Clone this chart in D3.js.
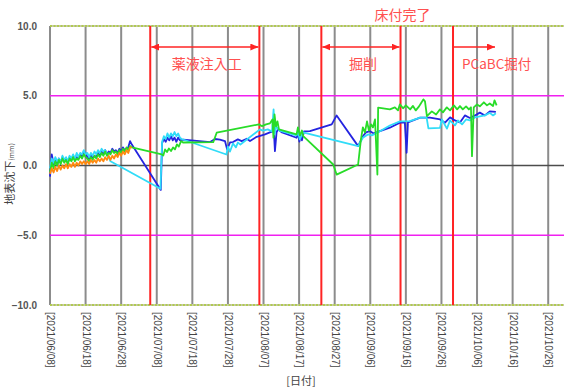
<!DOCTYPE html>
<html>
<head>
<meta charset="utf-8">
<script src="https://cdn.jsdelivr.net/npm/d3@7"></script>
<style>
body { margin: 0; background: #ffffff; }
</style>
</head>
<body>
<div id="canvas"></div>
<script>
// ----------------------------------------------------------
// DATA -----------------------------------------------------
// ----------------------------------------------------------
// gridline dates (every 10 days)
var tick_dates = ["06/08", "06/18", "06/28", "07/08", "07/18", "07/28", "08/07",
  "08/17", "08/27", "09/06", "09/16", "09/26", "10/06", "10/16", "10/26"];
var y_ticks = [10, 5, 0, -5, -10];

// construction steps (red lines) and their labels
var event_dates = ["07/06 04", "08/05 20", "08/23 06", "09/14 12", "09/29 06"];
var phase_names = ["薬液注入工", "掘削", "PCaBC掘付"];
var milestone_name = "床付完了";

// settlement readings [date hour, mm]
var series_blue = [
["06/08 00",-0.8],["06/08 12",0.8],["06/09 00",0.1],["06/09 12",0.4],["06/10 00",0.0],["06/10 12",0.5],
["06/11 00",0.2],["06/11 12",0.6],["06/12 00",0.3],["06/12 12",0.5],["06/13 00",0.2],["06/13 12",0.6],
["06/14 00",0.4],["06/14 12",0.7],["06/15 00",0.4],["06/15 12",0.6],["06/16 00",0.5],["06/16 12",0.8],
["06/17 00",0.6],["06/17 12",1.0],["06/18 00",0.9],["06/18 12",0.6],["06/19 00",0.5],["06/19 12",0.8],
["06/20 00",0.5],["06/20 12",0.7],["06/21 00",0.6],["06/21 12",0.9],["06/22 00",0.7],["06/22 12",1.0],
["06/23 00",0.8],["06/23 12",1.1],["06/24 00",0.8],["06/24 12",1.0],["06/25 00",0.9],["06/25 12",1.2],
["06/26 00",1.0],["06/26 12",1.1],["06/27 00",0.9],["06/27 12",1.2],["06/28 00",1.0],["06/28 12",1.3],
["06/29 00",1.1],["06/29 12",1.2],["06/30 00",1.3],["06/30 12",1.75],["07/01 00",1.5],
["07/09 03",-1.75],["07/09 12",1.6],["07/10 00",1.9],["07/10 12",1.7],["07/11 00",2.0],["07/11 12",1.8],
["07/12 00",2.1],["07/12 12",1.8],["07/13 00",2.0],["07/13 12",1.7],["07/14 00",2.0],["07/14 12",1.8],
["07/15 11",1.85],["07/23 00",1.68],["07/24 09",1.9],["07/25 18",1.85],["07/27 04",1.75],["07/27 19",1.15],
["07/28 14",1.65],["07/29 10",1.68],["07/30 19",1.87],["07/31 21",1.75],["08/02 07",1.92],["08/03 05",1.75],
["08/05 02",2.06],["08/06 12",2.16],["08/07 10",2.23],["08/08 19",2.37],["08/09 22",2.46],["08/10 05",1.03],
["08/10 16",2.37],["08/11 01",2.59],["08/12 05",2.37],["08/16 07",1.99],["08/16 16",2.37],["08/17 02",1.72],
["08/17 12",2.23],["08/17 19",1.8],["08/18 09",2.44],["08/20 01",2.46],["08/26 04",2.95],["08/27 13",3.59],
["09/02 14",1.39],["09/03 22",2.1],["09/04 19",2.37],["09/05 22",2.46],["09/07 00",2.3],["09/08 17",2.46],
["09/11 12",2.71],["09/14 08",3.07],["09/15 17",3.07],["09/16 05",0.91],["09/16 14",3.09],["09/20 00",3.43],
["09/22 19",3.43],["09/25 15",3.3],["09/27 00",3.07],["09/28 10",3.45],["09/29 19",3.23],["10/01 05",3.09],
["10/02 14",3.59],["10/04 00",3.41],["10/05 10",3.59],["10/06 19",3.79],["10/08 05",3.59],["10/09 14",3.88],
["10/11 07",3.84]
];
var series_cyan = [
["06/08 00",-0.2],["06/08 12",0.5],["06/09 00",0.2],["06/09 12",0.6],["06/10 00",0.3],["06/10 12",0.5],
["06/11 00",0.2],["06/11 12",0.7],["06/12 00",0.4],["06/12 12",0.6],["06/13 00",0.3],["06/13 12",0.7],
["06/14 00",0.5],["06/14 12",0.8],["06/15 00",0.5],["06/15 12",0.9],["06/16 00",0.6],["06/16 12",0.9],
["06/17 00",0.8],["06/17 12",1.1],["06/18 00",0.8],["06/18 12",0.9],["06/19 00",0.6],["06/19 12",0.9],
["06/20 00",0.7],["06/20 12",1.0],["06/21 00",0.8],["06/21 12",1.1],["06/22 00",0.9],["06/22 12",1.2],
["06/23 00",1.0],["06/23 12",1.1],["06/24 00",0.8],["06/24 12",0.6],["06/25 00",0.3],
["07/09 01",-1.67],["07/09 12",1.7],["07/10 00",2.1],["07/10 12",1.9],["07/11 00",2.3],["07/11 12",2.0],
["07/12 00",2.3],["07/12 12",2.1],["07/13 00",2.4],["07/13 12",2.1],["07/14 00",2.3],["07/14 12",2.0],
["07/15 00",1.9],["07/27 14",0.79],["07/28 00",1.36],["07/28 14",1.0],["07/29 10",1.58],["07/30 06",1.3],
["07/30 19",1.65],["07/31 12",1.5],["08/06 00",2.59],["08/06 20",2.5],["08/08 05",2.59],["08/09 09",2.44],
["08/09 20",4.02],["08/10 03",2.23],["08/10 12",2.8],["08/11 12",2.5],["08/16 07",2.16],["08/16 16",2.44],
["08/17 05",1.87],["08/18 02",2.37],["09/02 14",1.39],["09/03 22",1.99],["09/05 08",2.23],["09/06 11",2.16],
["09/08 17",2.46],["09/11 12",2.87],["09/14 08",3.16],["09/17 03",3.18],["09/20 00",3.43],["09/21 20",3.43],
["09/22 08",2.66],["09/25 14",2.69],["09/26 03",3.3],["09/27 13",2.64],["09/28 10",3.23],["09/29 19",2.87],
["09/30 15",3.23],["10/01 19",2.95],["10/02 22",3.3],["10/04 00",3.23],["10/05 10",3.45],["10/06 19",3.52],
["10/08 05",3.59],["10/09 14",3.77],["10/10 12",3.59],["10/11 07",3.74]
];
var series_green = [
["06/08 00",-0.5],["06/08 12",0.2],["06/09 00",-0.2],["06/09 12",0.3],["06/10 00",0.0],["06/10 12",0.4],
["06/11 00",0.1],["06/11 12",0.5],["06/12 00",0.2],["06/12 12",0.4],["06/13 00",0.1],["06/13 12",0.5],
["06/14 00",0.3],["06/14 12",0.6],["06/15 00",0.3],["06/15 12",0.5],["06/16 00",0.4],["06/16 12",0.7],
["06/17 00",0.5],["06/17 12",0.8],["06/18 00",0.6],["06/18 12",0.5],["06/19 00",0.3],["06/19 12",0.6],
["06/20 00",0.4],["06/20 12",0.7],["06/21 00",0.5],["06/21 12",0.8],["06/22 00",0.6],["06/22 12",0.9],
["06/23 00",0.7],["06/23 12",1.0],["06/24 00",0.7],["06/24 12",0.9],["06/25 00",0.8],["06/25 12",1.1],
["06/26 00",0.9],["06/26 12",1.0],["06/27 00",0.8],["06/27 12",1.1],["06/28 00",0.9],["06/28 12",1.2],
["06/29 00",1.0],["06/29 12",1.3],["06/30 00",1.1],["06/30 12",1.4],["07/01 00",1.3],
["07/09 10",0.79],["07/09 20",0.72],["07/10 08",1.15],["07/10 21",0.97],["07/11 10",1.22],["07/12 00",1.04],
["07/12 14",1.29],["07/13 03",1.15],["07/13 16",1.51],["07/14 05",1.36],["07/14 20",1.75],["07/15 09",1.65],
["07/23 21",1.67],["07/24 20",2.35],["08/05 17",2.95],["08/06 14",2.82],["08/07 17",2.95],["08/08 19",3.02],
["08/09 12",3.3],["08/09 19",2.0],["08/10 02",3.66],["08/10 12",2.8],["08/10 22",3.16],["08/11 08",2.59],
["08/16 07",2.23],["08/16 16",2.73],["08/17 05",2.16],["08/17 19",2.51],["08/18 04",2.1],["08/26 14",0.07],
["08/27 13",-0.65],["09/02 14",0.07],["09/03 09",1.87],["09/03 22",2.73],["09/04 12",2.37],["09/05 02",3.16],
["09/05 15",2.51],["09/06 05",2.95],["09/06 18",2.73],["09/07 08",3.3],["09/08 00",-0.65],["09/08 05",4.15],
["09/11 12",4.02],["09/12 22",4.17],["09/13 19",3.95],["09/14 08",4.38],["09/15 05",4.1],["09/16 00",4.31],
["09/17 05",4.02],["09/18 00",4.27],["09/18 19",3.95],["09/19 17",4.24],["09/20 05",4.45],["09/20 22",4.74],
["09/21 09",4.6],["09/21 22",3.54],["09/23 07",3.88],["09/24 12",3.66],["09/25 14",4.02],["09/26 10",3.81],
["09/27 12",4.17],["09/28 10",3.95],["09/29 12",4.31],["09/30 10",4.02],["10/01 05",4.26],["10/02 00",4.02],
["10/02 22",4.24],["10/03 17",4.02],["10/04 07",4.17],["10/04 14",0.67],["10/05 02",4.17],["10/06 00",4.38],
["10/06 19",4.24],["10/07 22",4.53],["10/08 19",4.31],["10/09 14",4.45],["10/10 12",4.27],["10/10 22",4.67],
["10/11 12",4.31]
];
var series_orange = [
["06/08 00",-0.6],["06/08 12",-0.2],["06/09 00",-0.5],["06/09 12",-0.1],["06/10 00",-0.4],["06/10 12",0.0],
["06/11 00",-0.3],["06/11 12",0.0],["06/12 00",-0.2],["06/12 12",0.1],["06/13 00",-0.2],["06/13 12",0.1],
["06/14 00",-0.1],["06/14 12",0.2],["06/15 00",-0.1],["06/15 12",0.2],["06/16 00",0.0],["06/16 12",0.3],
["06/17 00",0.1],["06/17 12",0.3],["06/18 00",0.1],["06/18 12",0.3],["06/19 00",0.1],["06/19 12",0.4],
["06/20 00",0.2],["06/20 12",0.4],["06/21 00",0.2],["06/21 12",0.5],["06/22 00",0.3],["06/22 12",0.5],
["06/23 00",0.3],["06/23 12",0.6],["06/24 00",0.4],["06/24 12",0.7],["06/25 00",0.4],["06/25 12",0.7],
["06/26 00",0.5],["06/26 12",0.8],["06/27 00",0.6],["06/27 12",0.9],["06/28 00",0.7],["06/28 12",1.0],
["06/29 00",0.8],["06/29 12",1.1],["06/30 00",0.9],["06/30 12",1.3],["07/01 00",1.3]
];


// ----------------------------------------------------------
// STRUCTURE ------------------------------------------------
// ----------------------------------------------------------
var plot_left = 50, plot_right = 566, plot_top = 26, plot_bottom = 305;

var svg = d3.select("#canvas").append("svg")
.attr("width", 564)
.attr("height", 389)
.style("display", "block")
.style("background-color", "#ffffff");

var parse_time = d3.timeParse("%Y/%m/%d %H");
function to_date(s) {
  return parse_time("2021/" + (s.length > 5 ? s : s + " 00"));
}

var x = d3.scaleTime()
.domain([to_date("06/08"), to_date("10/31")])
.range([plot_left, plot_right]);

var y = d3.scaleLinear()
.domain([-10, 10])
.range([plot_bottom, plot_top]);

var grid_group = svg.append("g").attr("class", "grid_group");
var event_group = svg.append("g").attr("class", "event_group");
var line_group = svg.append("g").attr("class", "line_group");
var text_group = svg.append("g").attr("class", "text_group");


// ----------------------------------------------------------
// GRID -----------------------------------------------------
// ----------------------------------------------------------
// vertical gridlines
grid_group.selectAll(".v_grid")
.data(tick_dates)
.enter()
.append("line")
.attr("x1", function(d) { return x(to_date(d)); })
.attr("x2", function(d) { return x(to_date(d)); })
.attr("y1", plot_top)
.attr("y2", plot_bottom)
.style("stroke", "#8c8c8c")
.style("stroke-width", 2);

// horizontal reference lines
function h_color(v) {
  if (v === 0) return "#4d4d4d";
  if (Math.abs(v) === 5) return "#f020f0";
  return "#a8cc30";
}
grid_group.selectAll(".h_back")
.data(y_ticks.filter(function(v) { return Math.abs(v) === 10; }))
.enter()
.append("line")
.attr("x1", plot_left).attr("x2", plot_right)
.attr("y1", function(d) { return y(d); })
.attr("y2", function(d) { return y(d); })
.style("stroke", "#c8c8b0")
.style("stroke-width", 2);

grid_group.selectAll(".h_grid")
.data(y_ticks)
.enter()
.append("line")
.attr("x1", plot_left).attr("x2", plot_right)
.attr("y1", function(d) { return y(d); })
.attr("y2", function(d) { return y(d); })
.style("stroke", h_color)
.style("stroke-width", function(d) { return d === 0 ? 1.5 : 1.6; })
.style("stroke-dasharray", function(d) { return Math.abs(d) === 10 ? "2,1.5" : null; });


// ----------------------------------------------------------
// AXES -----------------------------------------------------
// ----------------------------------------------------------
var y_axis = svg.append("g")
.attr("transform", "translate(" + plot_left + ",0)")
.call(d3.axisLeft(y).tickValues(y_ticks).tickFormat(d3.format(".1f")).tickSize(0).tickPadding(13));
y_axis.select(".domain").remove();
y_axis.selectAll("text")
.style("font-family", "'Liberation Sans', Arial, sans-serif")
.style("font-weight", "bold")
.style("font-size", "10px")
.style("fill", "#555555");

var x_axis = svg.append("g")
.attr("transform", "translate(0," + plot_bottom + ")")
.call(d3.axisBottom(x).tickValues(tick_dates.map(to_date))
  .tickFormat(d3.timeFormat("[%Y/%m/%d]")).tickSize(0));
x_axis.select(".domain").remove();
x_axis.selectAll("text")
.attr("x", 7)
.attr("y", 0)
.attr("dy", "0.35em")
.attr("transform", "rotate(90)")
.style("text-anchor", "start")
.style("font-family", "'Liberation Sans', Arial, sans-serif")
.style("font-size", "10px")
.style("fill", "#444444");


// ----------------------------------------------------------
// EVENTS ---------------------------------------------------
// ----------------------------------------------------------
var ev_x = event_dates.map(function(d) { return x(to_date(d)); });

event_group.selectAll(".event_line")
.data(event_dates)
.enter()
.append("line")
.attr("x1", function(d) { return x(to_date(d)); })
.attr("x2", function(d) { return x(to_date(d)); })
.attr("y1", plot_top)
.attr("y2", plot_bottom)
.style("stroke", "#ff2424")
.style("stroke-width", 2);

var defs = svg.append("defs");
defs.append("marker")
.attr("id", "arrow_head")
.attr("markerUnits", "userSpaceOnUse")
.attr("markerWidth", 8).attr("markerHeight", 7)
.attr("refX", 8).attr("refY", 3.5)
.attr("orient", "auto-start-reverse")
.append("path")
.attr("d", "M0,0 L8,3.5 L0,7 Z")
.style("fill", "#ff2424");

var arrow_y = 47;
var arrows = [
  {x1: ev_x[0] + 1, x2: ev_x[1] - 1, both: true},
  {x1: ev_x[2] + 1, x2: ev_x[3] - 1, both: true},
  {x1: ev_x[4] + 1, x2: ev_x[4] + 42, both: false}
];
event_group.selectAll(".arrow")
.data(arrows)
.enter()
.append("line")
.attr("x1", function(d) { return d.x1; })
.attr("x2", function(d) { return d.x2; })
.attr("y1", arrow_y).attr("y2", arrow_y)
.style("stroke", "#ff2424")
.style("stroke-width", 1.4)
.attr("marker-start", function(d) { return d.both ? "url(#arrow_head)" : null; })
.attr("marker-end", "url(#arrow_head)");

var label_font = "'Noto Sans CJK JP', 'Noto Sans', sans-serif";
var phase_pos = [
  {x: (ev_x[0] + ev_x[1]) / 2 + 2, anchor: "middle", size: 14},
  {x: (ev_x[2] + ev_x[3]) / 2 + 2, anchor: "middle", size: 14},
  {x: ev_x[4] + 9, anchor: "start", size: 13.5}
];
text_group.selectAll(".phase")
.data(phase_names)
.enter()
.append("text")
.attr("x", function(d, i) { return phase_pos[i].x; })
.attr("y", 69)
.attr("text-anchor", function(d, i) { return phase_pos[i].anchor; })
.style("font-size", function(d, i) { return phase_pos[i].size + "px"; })
.style("font-family", label_font)
.style("fill", "#ff5050")
.text(function(d) { return d; });

text_group.append("text")
.attr("x", ev_x[3] + 2)
.attr("y", 20)
.attr("text-anchor", "middle")
.style("font-size", "14px")
.style("font-family", label_font)
.style("fill", "#ff5050")
.text(milestone_name);


// ----------------------------------------------------------
// LINES ----------------------------------------------------
// ----------------------------------------------------------
var line_gen = d3.line()
.x(function(d) { return x(to_date(d[0])); })
.y(function(d) { return y(d[1]); });

var all_series = [
  {data: series_blue, color: "#2424e0"},
  {data: series_cyan, color: "#30dcf8"},
  {data: series_green, color: "#28dc28"},
  {data: series_orange, color: "#ff8a10"}
];
line_group.selectAll(".series")
.data(all_series)
.enter()
.append("path")
.attr("d", function(d) { return line_gen(d.data); })
.style("fill", "none")
.style("stroke", function(d) { return d.color; })
.style("stroke-width", 1.8)
.style("stroke-linejoin", "round");


// ----------------------------------------------------------
// TITLES ---------------------------------------------------
// ----------------------------------------------------------
var y_title = text_group.append("text")
.attr("transform", "translate(14,174) rotate(-90)")
.attr("text-anchor", "middle")
.style("font-family", label_font)
.style("fill", "#444444");
y_title.append("tspan").style("font-size", "11px").text("地表沈下");
y_title.append("tspan").style("font-size", "7px").text("(mm)");

text_group.append("text")
.attr("x", 301)
.attr("y", 385)
.attr("text-anchor", "middle")
.style("font-family", label_font)
.style("font-size", "11px")
.style("fill", "#444444")
.text("[日付]");
</script>
</body>
</html>
